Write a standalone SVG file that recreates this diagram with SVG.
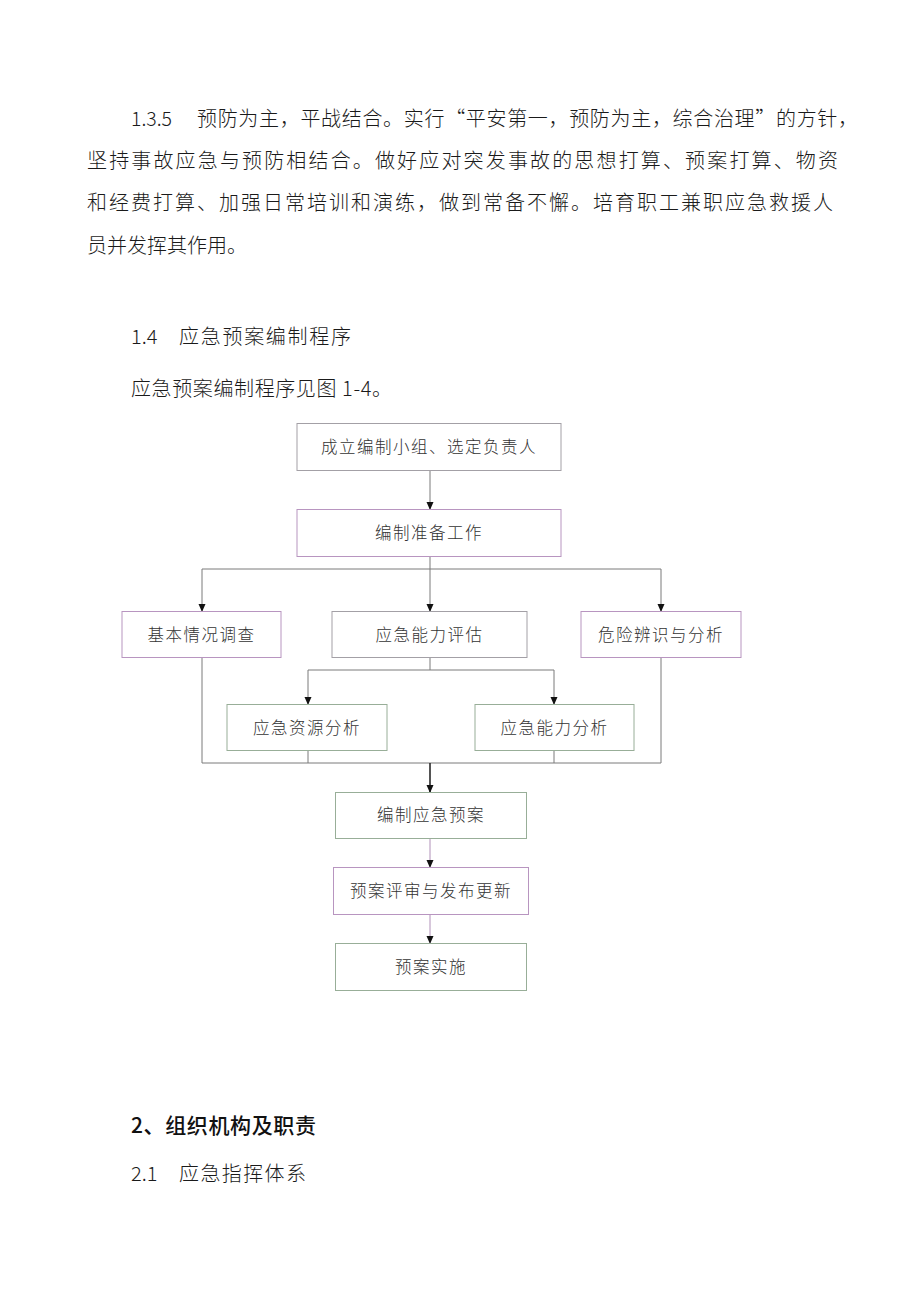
<svg xmlns="http://www.w3.org/2000/svg" width="920" height="1302" viewBox="0 0 920 1302">
<style>
.body{font-family:"Noto Sans CJK SC","Noto Sans",sans-serif;font-size:20px;fill:#1a1a1a;font-weight:300}
.h{font-family:"Noto Sans CJK SC","Noto Sans",sans-serif;font-size:21px;fill:#111;font-weight:500}
.ft{font-family:"Noto Sans CJK SC",sans-serif;font-size:16.5px;fill:#333;text-anchor:middle;dominant-baseline:central;letter-spacing:1.5px;font-weight:300}
.box{fill:#fff;stroke-width:1}
.pu{stroke:#b895c0}
.gr{stroke:#98ae98}
.gy{stroke:#a3a0a6}
.ln{fill:none;stroke:#7a7a7a;stroke-width:1}
</style>
<defs>
<marker id="ah" viewBox="0 0 8 8" refX="7" refY="4" markerWidth="8" markerHeight="8" markerUnits="userSpaceOnUse" orient="auto">
<path d="M0,0.5 L8,4 L0,7.5 Z" fill="#111"/>
</marker>
</defs>
<rect width="920" height="1302" fill="#fff"/>
<g id="text-body">
<text class="body" x="131" y="117" dominant-baseline="central" textLength="41" lengthAdjust="spacingAndGlyphs">1.3.5</text>
<text class="body" x="197" y="117" dominant-baseline="central" textLength="661" lengthAdjust="spacing">预防为主，平战结合。实行“平安第一，预防为主，综合治理”的方针，</text>
<text class="body" x="87" y="159" dominant-baseline="central" textLength="751" lengthAdjust="spacing">坚持事故应急与预防相结合。做好应对突发事故的思想打算、预案打算、物资</text>
<text class="body" x="87" y="201" dominant-baseline="central" textLength="746" lengthAdjust="spacing">和经费打算、加强日常培训和演练，做到常备不懈。培育职工兼职应急救援人</text>
<text class="body" x="87" y="244" dominant-baseline="central" textLength="160" lengthAdjust="spacing">员并发挥其作用。</text>
<text class="body" x="131" y="335" dominant-baseline="central">1.4</text>
<text class="body" x="179" y="335" dominant-baseline="central" textLength="172" lengthAdjust="spacing">应急预案编制程序</text>
<text class="body" x="131" y="387" dominant-baseline="central" textLength="261" lengthAdjust="spacing">应急预案编制程序见图 1-4。</text>
<text class="h" x="131" y="1124" dominant-baseline="central" textLength="185" lengthAdjust="spacing">2、组织机构及职责</text>
<text class="body" x="131" y="1172" dominant-baseline="central">2.1</text>
<text class="body" x="179" y="1172" dominant-baseline="central" textLength="127" lengthAdjust="spacing">应急指挥体系</text>
</g>
<g id="connectors">
<line class="ln" x1="430" y1="471" x2="430" y2="509" marker-end="url(#ah)"/>
<line class="ln" x1="430" y1="557" x2="430" y2="569"/>
<line class="ln" x1="202" y1="569" x2="661" y2="569"/>
<line class="ln" x1="202" y1="569" x2="202" y2="611" marker-end="url(#ah)"/>
<line class="ln" x1="430" y1="569" x2="430" y2="611" marker-end="url(#ah)"/>
<line class="ln" x1="661" y1="569" x2="661" y2="611" marker-end="url(#ah)"/>
<line class="ln" x1="430" y1="658" x2="430" y2="670"/>
<line class="ln" x1="308" y1="670" x2="554" y2="670"/>
<line class="ln" x1="308" y1="670" x2="308" y2="704" marker-end="url(#ah)"/>
<line class="ln" x1="554" y1="670" x2="554" y2="704" marker-end="url(#ah)"/>
<polyline class="ln" points="202,658 202,763 661,763 661,658"/>
<line class="ln" x1="308" y1="751" x2="308" y2="763"/>
<line class="ln" x1="554" y1="751" x2="554" y2="763"/>
<line x1="430" y1="763" x2="430" y2="792" stroke="#2a2a2a" stroke-width="1.6" marker-end="url(#ah)"/>
<line x1="430" y1="838" x2="430" y2="867" stroke="#b090b8" stroke-width="1" marker-end="url(#ah)"/>
<line x1="430" y1="914" x2="430" y2="943" stroke="#b090b8" stroke-width="1" marker-end="url(#ah)"/>
</g>
<g id="n1"><rect class="box gy" x="297" y="423.5" width="264" height="47"/><text class="ft" x="429" y="446">成立编制小组、选定负责人</text></g>
<g id="n2"><rect class="box pu" x="297" y="509.5" width="264" height="47"/><text class="ft" x="429" y="532">编制准备工作</text></g>
<g id="n3"><rect class="box pu" x="122" y="611.5" width="159" height="46"/><text class="ft" x="201.5" y="634">基本情况调查</text></g>
<g id="n4"><rect class="box gy" x="332" y="611.5" width="195" height="46"/><text class="ft" x="429.5" y="634">应急能力评估</text></g>
<g id="n5"><rect class="box pu" x="581" y="611.5" width="160" height="46"/><text class="ft" x="661" y="634">危险辨识与分析</text></g>
<g id="n6"><rect class="box gr" x="227" y="704.5" width="160" height="46"/><text class="ft" x="307" y="726.5">应急资源分析</text></g>
<g id="n7"><rect class="box gr" x="475" y="704.5" width="159" height="46"/><text class="ft" x="554.5" y="726.5">应急能力分析</text></g>
<g id="n8"><rect class="box gr" x="335.5" y="792.5" width="191" height="46"/><text class="ft" x="431" y="814">编制应急预案</text></g>
<g id="n9"><rect class="box pu" x="333.5" y="867.5" width="195" height="47"/><text class="ft" x="431" y="889.5">预案评审与发布更新</text></g>
<g id="n10"><rect class="box gr" x="335.5" y="943.5" width="191" height="47"/><text class="ft" x="431" y="965.5">预案实施</text></g>
</svg>
